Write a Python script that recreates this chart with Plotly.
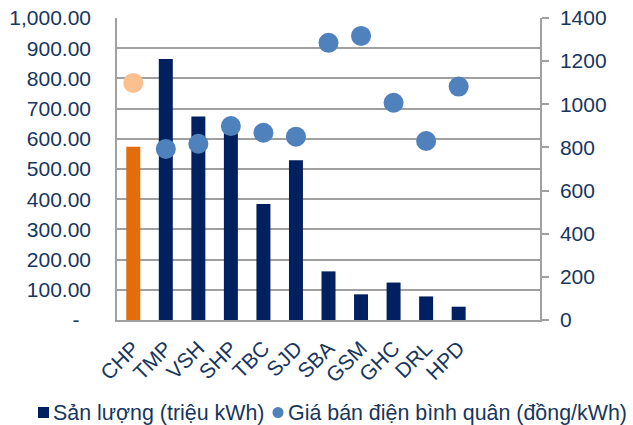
import plotly.graph_objects as go

# Hydropower companies (two trailing empty slots keep the right-hand space)
companies = ["CHP", "TMP", "VSH", "SHP", "TBC", "SJD", "SBA", "GSM", "GHC", "DRL", "HPD"]
output_mkwh = [574, 864, 674, 645, 384, 529, 161, 85, 124, 78, 44]
avg_price = [1099, 793, 817, 899, 868, 850, 1285, 1317, 1007, 830, 1082]

left_ticks = [0, 100, 200, 300, 400, 500, 600, 700, 800, 900, 1000]
left_tick_text = ["-\u00a0\u00a0", "100.00", "200.00", "300.00", "400.00", "500.00",
                  "600.00", "700.00", "800.00", "900.00", "1,000.00"]
right_ticks = [0, 200, 400, 600, 800, 1000, 1200, 1400]

series_names = ["Sản lượng (triệu kWh)", "Giá bán điện bình quân (đồng/kWh)"]

NAVY = "#002060"
ORANGE = "#E46C0A"
LIGHT_ORANGE = "#FAC090"
BLUE = "#4F81BD"
TEXT = "#17365D"
GRID = "#A0A0A0"
FONT = "Liberation Sans, Arial, sans-serif"

n_slots = len(companies) + 2
xs = list(range(len(companies)))
bar_colors = [ORANGE if c == "CHP" else NAVY for c in companies]
dot_colors = [LIGHT_ORANGE if c == "CHP" else BLUE for c in companies]

fig = go.Figure()
fig.add_trace(go.Bar(
    x=xs, y=output_mkwh, width=0.43, marker=dict(color=bar_colors, line=dict(width=0)),
    name=series_names[0], yaxis="y", showlegend=False,
))
fig.add_trace(go.Scatter(
    x=xs, y=avg_price, mode="markers",
    marker=dict(size=20, color=dot_colors, line=dict(width=0)),
    name=series_names[1], yaxis="y2", showlegend=False,
))

fig.update_layout(
    width=633, height=425,
    margin=dict(l=117, r=93, t=18, b=105),
    paper_bgcolor="white", plot_bgcolor="white",
    font=dict(family=FONT, color=TEXT, size=21),
    showlegend=False,
    xaxis=dict(
        range=[-0.5, n_slots - 0.5], tickvals=xs, ticktext=companies,
        tickangle=-45, showgrid=False, zeroline=False, automargin=False,
        showline=True, linecolor=GRID, linewidth=1.5,
        ticks="", tickfont=dict(size=21, color=TEXT), ticklabelstandoff=6,
    ),
    yaxis=dict(
        range=[0, 1000], tickvals=left_ticks, ticktext=left_tick_text,
        showgrid=True, gridcolor=GRID, gridwidth=1.5, zeroline=False,
        showline=True, linecolor=GRID, linewidth=1.5, ticks="", automargin=False,
        tickfont=dict(size=21, color=TEXT), ticklabelstandoff=20,
    ),
    yaxis2=dict(
        range=[0, 1400], tickvals=right_ticks, overlaying="y", side="right",
        showgrid=False, zeroline=False, automargin=False,
        showline=True, linecolor=GRID, linewidth=1.5,
        ticks="outside", ticklen=7, tickcolor=GRID, tickwidth=1.5,
        tickfont=dict(size=21, color=TEXT), ticklabelstandoff=7,
    ),
)

# Legend drawn as symbols plus text beneath the plot
fig.add_shape(type="rect", xref="paper", yref="paper",
              x0=(38 - 117) / 423, x1=(49 - 117) / 423,
              y0=(320 - 418) / 302, y1=(320 - 407) / 302,
              fillcolor=NAVY, line=dict(width=0))
fig.add_shape(type="circle", xref="paper", yref="paper",
              x0=(272.5 - 117) / 423, x1=(283.5 - 117) / 423,
              y0=(320 - 418) / 302, y1=(320 - 407) / 302,
              fillcolor=BLUE, line=dict(width=0))
fig.add_annotation(text=series_names[0], xref="paper", yref="paper",
                   x=(51 - 117) / 423, y=(320 - 412.5) / 302,
                   xanchor="left", yanchor="middle", showarrow=False,
                   font=dict(size=21.4, color=TEXT))
fig.add_annotation(text=series_names[1], xref="paper", yref="paper",
                   x=(286 - 117) / 423, y=(320 - 412.5) / 302,
                   xanchor="left", yanchor="middle", showarrow=False,
                   font=dict(size=21.4, color=TEXT))

fig.write_html("out.html")
